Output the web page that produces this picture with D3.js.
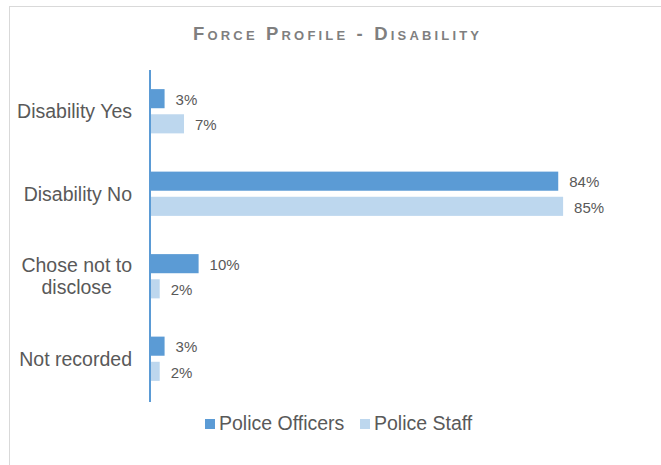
<!DOCTYPE html>
<html><head><meta charset="utf-8">
<script src="https://cdn.jsdelivr.net/npm/d3@7"></script>
<style>
html,body{margin:0;padding:0;background:#fff;}
svg{display:block;}
text{font-family:"Liberation Sans", Arial, sans-serif;}
</style></head>
<body>
<svg id="chart" width="661" height="465"></svg>
<script>
const categories = ["Disability Yes", "Disability No", "Chose not to disclose", "Not recorded"];
const categoryLines = [["Disability Yes"], ["Disability No"], ["Chose not to", "disclose"], ["Not recorded"]];
const seriesNames = ["Police Officers", "Police Staff"];
const officers = [3, 84, 10, 3];
const staff = [7, 85, 2, 2];
const colors = ["#5b9bd5", "#bdd7ee"];
const titleText = "Force Profile - Disability";

const svg = d3.select("#chart");
svg.append("rect").attr("x", 9.5).attr("y", 6.5).attr("width", 680).attr("height", 480)
  .attr("fill", "#fff").attr("stroke", "#d9d9d9").attr("stroke-width", 1);

svg.append("text").attr("x", 336).attr("y", 40).attr("text-anchor", "middle")
  .attr("fill", "#7f7f7f").attr("font-weight", "bold").attr("font-size", 18.5)
  .style("font-variant", "small-caps").attr("textLength", 286).attr("lengthAdjust", "spacing")
  .text(titleText);

const x = d3.scaleLinear().domain([0, 100]).range([150, 636]);
const y0 = d3.scaleBand().domain(categories).range([70, 400]).padding(0);
const y1 = d3.scaleBand().domain(seriesNames).range([0, y0.bandwidth()]).paddingInner(0.24).paddingOuter(0.76);

const rows = categories.map((c, i) => ({cat: c, lines: categoryLines[i], vals: [officers[i], staff[i]]}));

const g = svg.append("g");
rows.forEach(r => {
  r.vals.forEach((v, j) => {
    const yy = y0(r.cat) + y1(seriesNames[j]);
    g.append("rect").attr("x", x(0)).attr("y", yy).attr("width", x(v) - x(0)).attr("height", y1.bandwidth())
      .attr("fill", colors[j]);
    g.append("text").attr("x", x(v) + 11).attr("y", yy + y1.bandwidth() / 2 + 1).attr("dy", "0.35em")
      .attr("font-size", 15).attr("fill", "#595959").text(v + "%");
  });
});

// axis line
const axis = d3.axisLeft(y0).tickSize(0).tickSizeOuter(0).tickFormat("");
const ag = svg.append("g").attr("transform", `translate(${x(0)},0)`).call(axis);
ag.select(".domain").attr("stroke", "#5b9bd5").attr("stroke-width", 2).attr("d", "M0,70V402");
ag.selectAll("text").remove();

// category labels
const rightX = 132;
rows.forEach(r => {
  const cy = y0(r.cat) + y0.bandwidth() / 2;
  const n = r.lines.length;
  const lh = 22;
  const tg = svg.append("g");
  const texts = r.lines.map((ln, k) => tg.append("text")
    .attr("y", cy + (k - (n - 1) / 2) * lh).attr("dy", "0.35em")
    .attr("font-size", 19.5).attr("fill", "#595959").text(ln));
  if (n === 1) {
    texts[0].attr("x", rightX).attr("text-anchor", "end");
  } else {
    const maxW = d3.max(texts, t => t.node().getComputedTextLength());
    texts.forEach(t => t.attr("x", rightX - maxW / 2).attr("text-anchor", "middle"));
  }
});

// legend
const legX = [205, 360];
seriesNames.forEach((s, j) => {
  svg.append("rect").attr("x", legX[j]).attr("y", 419).attr("width", 10).attr("height", 10).attr("fill", colors[j]);
  svg.append("text").attr("x", legX[j] + 14).attr("y", 430).attr("font-size", 19.5).attr("fill", "#595959").text(s);
});
</script>
</body></html>
